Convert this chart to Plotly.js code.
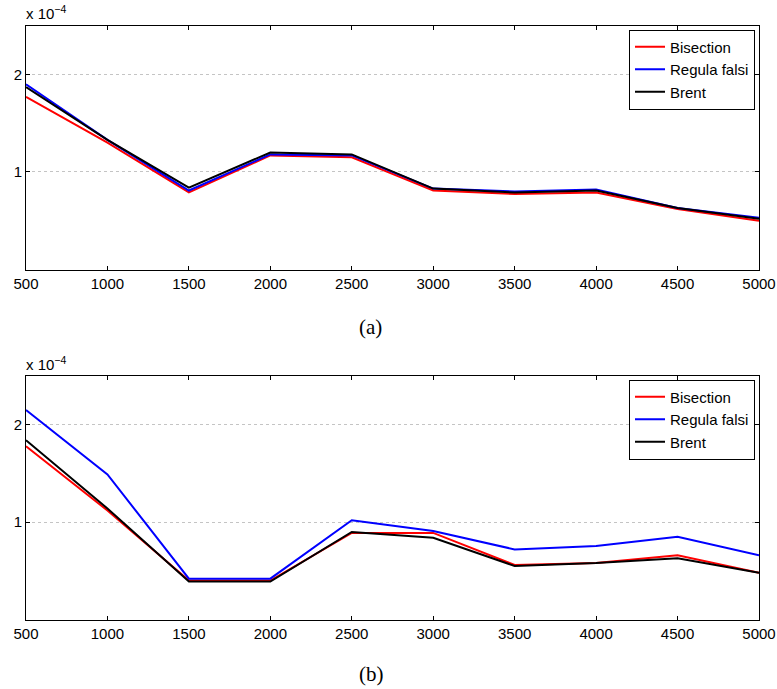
<!DOCTYPE html>
<html>
<head>
<meta charset="utf-8">
<script src="https://cdn.plot.ly/plotly-3.0.1.min.js"></script>
<style>html,body{margin:0;padding:0;background:#fff;}#chart{width:777px;height:689px;}</style>
</head>
<body>
<div id="chart"></div>
<script>
const xValues = [500, 1000, 1500, 2000, 2500, 3000, 3500, 4000, 4500, 5000];
const seriesNames = ["Bisection", "Regula falsi", "Brent"];
const seriesColors = ["#ff0000", "#0000ff", "#000000"];

// Panel (a), values in units of 1e-4
const bisectionA = [1.77, 1.30, 0.79, 1.17, 1.15, 0.81, 0.775, 0.79, 0.62, 0.50];
const regulaA    = [1.90, 1.33, 0.81, 1.18, 1.17, 0.83, 0.80, 0.82, 0.63, 0.53];
const brentA     = [1.87, 1.33, 0.84, 1.20, 1.18, 0.83, 0.79, 0.81, 0.63, 0.52];

// Panel (b), values in units of 1e-4
const bisectionB = [1.78, 1.12, 0.40, 0.40, 0.89, 0.89, 0.56, 0.58, 0.66, 0.48];
const regulaB    = [2.15, 1.49, 0.42, 0.42, 1.02, 0.91, 0.72, 0.755, 0.85, 0.66];
const brentB     = [1.84, 1.14, 0.39, 0.39, 0.90, 0.84, 0.55, 0.58, 0.63, 0.48];

const xTickVals = [500, 1000, 1500, 2000, 2500, 3000, 3500, 4000, 4500, 5000];
const yTickVals = [1, 2];
const yTickText = ["1", "2"];

const W = 777, H = 689;
const px = (p) => p / W;
const py = (p) => 1 - p / H;

const dataA = [bisectionA, regulaA, brentA];
const dataB = [bisectionB, regulaB, brentB];

const traces = [];
dataA.forEach((ys, i) => traces.push({
  x: xValues, y: ys, type: "scatter", mode: "lines", name: seriesNames[i],
  line: {color: seriesColors[i], width: 2}, xaxis: "x", yaxis: "y", legend: "legend"
}));
dataB.forEach((ys, i) => traces.push({
  x: xValues, y: ys, type: "scatter", mode: "lines", name: seriesNames[i],
  line: {color: seriesColors[i], width: 2}, xaxis: "x2", yaxis: "y2", legend: "legend2"
}));

const SANS = "Arial";
const tickFont = {family: SANS, size: 15, color: "#000"};
function xAxis(anchor) {
  return {
    domain: [px(26), px(759)], anchor: anchor, range: [500, 5000],
    tickvals: xTickVals, ticktext: xTickVals.map(String),
    ticks: "inside", ticklen: 4, tickcolor: "#000", tickwidth: 1,
    showline: true, linecolor: "#000", linewidth: 1, mirror: "allticks",
    showgrid: false, zeroline: false, tickfont: tickFont, fixedrange: true
  };
}
function yAxis(anchor, top, bottom) {
  return {
    domain: [py(bottom), py(top)], anchor: anchor, range: [0, 2.5],
    tickvals: yTickVals, ticktext: yTickText,
    ticks: "inside", ticklen: 4, tickcolor: "#000", tickwidth: 1,
    showline: true, linecolor: "#000", linewidth: 1, mirror: "allticks",
    showgrid: true, gridcolor: "#c4c4c4", griddash: "dot", gridwidth: 1,
    zeroline: false, tickfont: tickFont, fixedrange: true
  };
}

function legendAt(topPx) {
  return {
    x: px(755), xanchor: "right", y: py(topPx), yanchor: "top",
    bgcolor: "#fff", bordercolor: "#000", borderwidth: 1,
    font: {family: SANS, size: 15, color: "#000"},
    tracegroupgap: 0, itemwidth: 30
  };
}

const layout = {
  width: W, height: H,
  margin: {l: 0, r: 0, t: 0, b: 0},
  paper_bgcolor: "#fff", plot_bgcolor: "#fff",
  showlegend: true,
  xaxis: xAxis("y"),
  yaxis: yAxis("x", 25.7, 269.5),
  xaxis2: xAxis("y2"),
  yaxis2: yAxis("x2", 376, 619.6),
  legend: legendAt(29.5),
  legend2: legendAt(376 + 3.5),
  annotations: [
    {text: "x 10<sup>−4</sup>", xref: "paper", yref: "paper", x: px(24), y: py(24), xanchor: "left", yanchor: "bottom", showarrow: false,
     font: {family: SANS, size: 15, color: "#000"}},
    {text: "x 10<sup>−4</sup>", xref: "paper", yref: "paper", x: px(24), y: py(374.5), xanchor: "left", yanchor: "bottom", showarrow: false,
     font: {family: SANS, size: 15, color: "#000"}},
    {text: "(a)", xref: "paper", yref: "paper", x: px(370), y: py(327), xanchor: "center", yanchor: "middle", showarrow: false,
     font: {family: "Liberation Serif", size: 21, color: "#000"}},
    {text: "(b)", xref: "paper", yref: "paper", x: px(371), y: py(674), xanchor: "center", yanchor: "middle", showarrow: false,
     font: {family: "Liberation Serif", size: 21, color: "#000"}}
  ]
};

Plotly.newPlot("chart", traces, layout, {staticPlot: true, displayModeBar: false});
</script>
</body>
</html>
